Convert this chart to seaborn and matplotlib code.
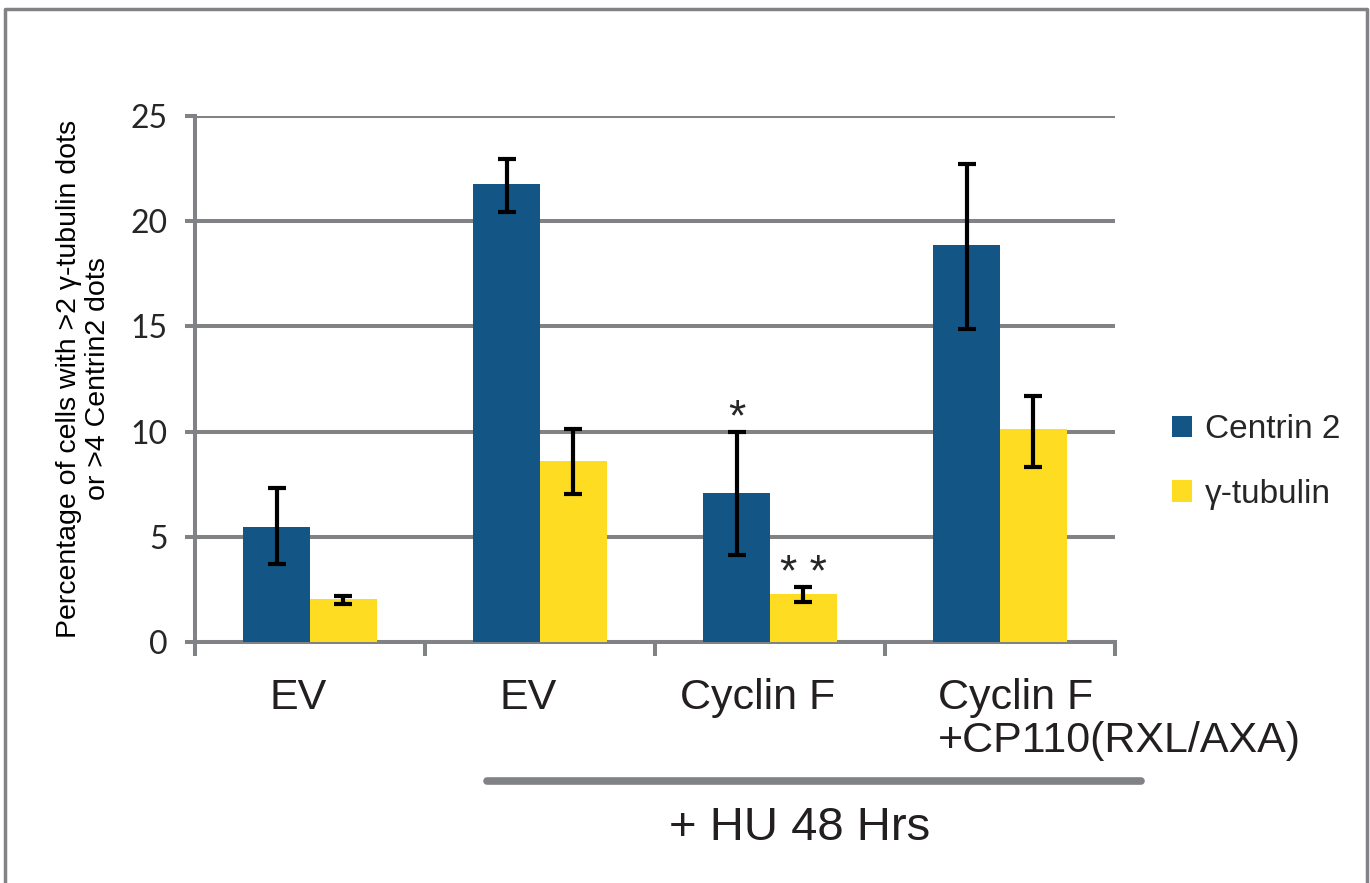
import numpy as np
import pandas as pd
import matplotlib
matplotlib.use("Agg")
import matplotlib.pyplot as plt
import matplotlib.transforms as mtransforms
from matplotlib.lines import Line2D
from matplotlib.patches import Patch
import seaborn as sns

categories = ["EV", "EV", "Cyclin F", "Cyclin F\n+CP110(RXL/AXA)"]
series = ["Centrin 2", "\u03b3-tubulin"]
centrin = [5.45, 21.77, 7.08, 18.85]
centrin_lo = [3.7, 20.45, 4.15, 14.9]
centrin_hi = [7.3, 22.95, 10.0, 22.72]
gamma = [2.02, 8.6, 2.28, 10.1]
gamma_lo = [1.8, 7.05, 1.9, 8.3]
gamma_hi = [2.2, 10.1, 2.6, 11.7]
yticks = [0, 5, 10, 15, 20, 25]
colors = ["#135585", "#FDDC22"]
GRAY = "#808285"

sns.set_theme(style="white")
plt.rcParams["font.family"] = ["Liberation Sans", "DejaVu Sans"]

df = pd.DataFrame({
    "group": list(range(4)) * 2,
    "series": [series[0]] * 4 + [series[1]] * 4,
    "value": centrin + gamma,
})

fig = plt.figure(figsize=(13.7, 8.83), dpi=100)
ax = fig.add_axes([195 / 1370, 1 - 642 / 883, 920 / 1370, 526 / 883])

sns.barplot(data=df, x="group", y="value", hue="series", hue_order=series,
            palette=colors, width=0.58, gap=0, errorbar=None, saturation=1,
            ax=ax, legend=False, zorder=3)

bar_conts = list(ax.containers)
centers = [[p.get_x() + p.get_width() / 2 for p in c.patches] for c in bar_conts]

# error bars
lo_all = [centrin_lo, gamma_lo]
hi_all = [centrin_hi, gamma_hi]
vals_all = [centrin, gamma]
for si, cont in enumerate(bar_conts):
    v = np.array(vals_all[si])
    lo = v - np.array(lo_all[si])
    hi = np.array(hi_all[si]) - v
    ax.errorbar(centers[si], v, yerr=[lo, hi], fmt="none", ecolor="black",
                elinewidth=3.0, capsize=6.2, capthick=3.0, zorder=5)
    for p in cont.patches:
        p.set_edgecolor("none")

ax.set_xlim(-0.5, 3.5)
ax.set_ylim(0, 25)
ax.set_yticks(yticks)
ax.set_yticklabels([str(t) for t in yticks], fontsize=23, family=["Lato", "DejaVu Sans"])
ax.yaxis.grid(True, color=GRAY, linewidth=2.9, zorder=0)
ax.set_axisbelow(True)

for s in ["top", "right"]:
    ax.spines[s].set_visible(False)
for s in ["left", "bottom"]:
    ax.spines[s].set_color(GRAY)
    ax.spines[s].set_linewidth(2.9)
ax.tick_params(axis="y", which="major", length=7.5, width=2.9, color=GRAY,
               direction="out", left=True, pad=12)

# x ticks: marks at boundaries, labels at centers
ax.set_xticks([-0.5, 0.5, 1.5, 2.5, 3.5])
ax.set_xticklabels([])
ax.set_xticks([0, 1, 2, 3], minor=True)
ax.set_xticklabels(categories, minor=True, fontsize=31)
ax.tick_params(axis="x", which="major", length=10, width=2.9, color=GRAY,
               direction="out", bottom=True)
ax.tick_params(axis="x", which="minor", length=0, pad=26)
ax.set_xlabel("")
minor_labels = ax.get_xticklabels(minor=True)
for i, lab in enumerate(minor_labels):
    lab.set_verticalalignment("top")
    lab.set_color("#231F20")
    if i < 3:
        lab.set_transform(lab.get_transform() + mtransforms.ScaledTranslation(-0.12, 0, fig.dpi_scale_trans))
    else:
        lab.set_horizontalalignment("left")
        lab.set_multialignment("left")
        lab.set_linespacing(1.1)
        lab.set_transform(lab.get_transform() + mtransforms.ScaledTranslation(-0.62, 0, fig.dpi_scale_trans))

ax.set_ylabel("Percentage of cells with >2 \u03b3-tubulin dots\nor >4 Centrin2 dots",
              fontsize=20.5, labelpad=14, color="black", linespacing=1.15)

# significance stars
ax.text(centers[0][2], centrin_hi[2] - 0.35, "*", ha="center", va="bottom", fontsize=32)
ax.text(centers[1][2], gamma_hi[2] - 0.35, "* *", ha="center", va="bottom", fontsize=32)

# legend
handles = [Patch(facecolor=c, edgecolor="none") for c in colors]
fig.legend(handles, series, loc="center left", bbox_to_anchor=(1142 / 1370, 1 - 462 / 883),
           frameon=False, fontsize=24, handlelength=0.6, handleheight=0.6,
           handletextpad=0.4, labelspacing=1.0)

# HU bracket line and label
fig.add_artist(Line2D([487 / 1370, 1141 / 1370], [1 - 781 / 883, 1 - 781 / 883],
                      color=GRAY, linewidth=5.5, solid_capstyle="round"))
fig.text(800 / 1370, 1 - 828 / 883, "+ HU 48 Hrs", ha="center", va="center",
         fontsize=34, color="#231F20")

# figure border
fig.add_artist(Line2D([5 / 1370, 5 / 1370, 1367 / 1370, 1367 / 1370],
                      [0, 1 - 9 / 883, 1 - 9 / 883, 0], color=GRAY, linewidth=2.5))

fig.savefig("out.png", dpi=100)
